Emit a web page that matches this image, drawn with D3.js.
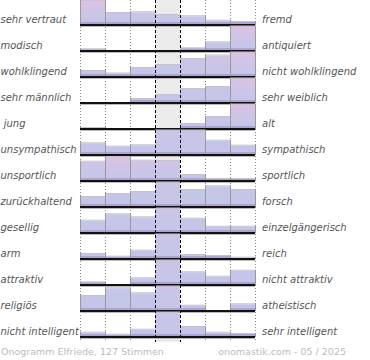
<!DOCTYPE html>
<html><head><meta charset="utf-8">
<script src="https://cdn.jsdelivr.net/npm/d3@7"></script>
<style>
body{margin:0;background:#fff}
svg{display:block}
text{font-family:"DejaVu Sans",sans-serif}
</style>
</head><body>
<svg id="c" width="370" height="360"></svg>
<script>
const leftLabels = ["sehr vertraut","modisch","wohlklingend","sehr männlich"," jung","unsympathisch","unsportlich","zurückhaltend","gesellig","arm","attraktiv","religiös","nicht intelligent"];
const rightLabels = ["fremd","antiquiert","nicht wohlklingend","sehr weiblich","alt","sympathisch","sportlich","forsch","einzelgängerisch","reich","nicht attraktiv","atheistisch","sehr intelligent"];
const columns = [0,1,2,3,4,5,6];
const row0  = [24, 12, 12.7, 10, 8.7, 4.3, 3];
const row1  = [1.7, 0, 0, 0, 2.7, 8.7, 26];
const row2  = [6, 3.5, 9, 12, 18, 21.5, 26];
const row3  = [0, 0, 4, 8, 14, 16, 26];
const row4  = [1, 0, 0, 0, 5, 12, 26];
const row5  = [11.7, 8.3, 9.7, 60, 50, 14.3, 9.3];
const row6  = [19.3, 24, 20.3, 20, 6, 2, 2];
const row7  = [10, 13, 15, 60, 17, 20.7, 17];
const row8  = [12.3, 18.7, 15.7, 55, 14.3, 6.3, 6.3];
const row9  = [5, 2.3, 8.3, 70, 4, 3, 1.3];
const row10 = [2.7, 0, 6.7, 65, 12.7, 8.3, 14.3];
const row11 = [15, 22.7, 17.7, 60, 5.3, 0, 6.7];
const row12 = [4.3, 2.3, 7.3, 70, 10, 4.3, 3];
const values = [row0,row1,row2,row3,row4,row5,row6,row7,row8,row9,row10,row11,row12];
const footerLeft = "Onogramm Elfriede, 127 Stimmen";
const footerRight = "onomastik.com - 05 / 2025";

const svg = d3.select("#c");
const defs = svg.append("defs");
const x = d3.scaleBand().domain(columns).range([80, 255]);
const rowScale = d3.scaleBand().domain(d3.range(leftLabels.length)).range([-1, 337]);
const step = rowScale.step();
const hScale = d3.scaleLinear().domain([0, 24.5]).range([0, 24.5]).clamp(true);
const blue = "#c3c6e8", pink = "#dcc2e4", band = "#a89ed0";
const pinkness = d3.scalePow().exponent(2.5).domain([0, 1]).range([0, 1]).clamp(true);

// middle column background
svg.append("rect").attr("x", x(3)).attr("y", 0).attr("width", x.bandwidth()).attr("height", 342).attr("fill", "#ebebeb");

// dotted column lines
[0,1,2,5,6,7].forEach(i => {
  const xx = i < 7 ? x(i) : x(6) + x.bandwidth();
  svg.append("line").attr("x1", xx + 0.5).attr("x2", xx + 0.5).attr("y1", 0).attr("y2", 342)
    .attr("stroke", "#888").attr("stroke-dasharray", "1,2");
});

values.forEach((vals, r) => {
  const base = rowScale(r) + step;
  const rowMax = d3.max(vals);
  vals.forEach((v, c) => {
    if (v <= 0) return;
    const hh = hScale(v);
    const t = pinkness(v / rowMax);
    const top = d3.interpolateRgb(blue, pink)(t);
    const id = `g${r}_${c}`;
    const g = defs.append("linearGradient").attr("id", id).attr("gradientUnits", "userSpaceOnUse")
      .attr("x1", 0).attr("x2", 0).attr("y1", base - v).attr("y2", base);
    g.append("stop").attr("offset", 0).attr("stop-color", top);
    g.append("stop").attr("offset", 0.55).attr("stop-color", d3.interpolateRgb(blue, top)(0.35));
    g.append("stop").attr("offset", 1).attr("stop-color", blue);
    const x0 = x(c), w = x.bandwidth();
    svg.append("rect").attr("x", x0).attr("y", base - hh).attr("width", w).attr("height", hh).attr("fill", `url(#${id})`);
    const bh = Math.min(3, hh);
    svg.append("rect").attr("x", x0).attr("y", base - bh).attr("width", w).attr("height", bh).attr("fill", band).attr("opacity", 0.85);
    // top edge
    svg.append("line").attr("x1", x0).attr("x2", x0 + w).attr("y1", base - hh - 0.5).attr("y2", base - hh - 0.5)
      .attr("stroke", "#c4c4c4").attr("stroke-width", 1);
    // side edges
    [x0, x0 + w].forEach(xx => {
      if (xx === x(3) || xx === x(4)) return;
      svg.append("line").attr("x1", xx + 0.5).attr("x2", xx + 0.5).attr("y1", base - hh - 1).attr("y2", base)
        .attr("stroke", "#999").attr("stroke-width", 1);
    });
  });
  // baseline
  svg.append("line").attr("x1", 80).attr("x2", 255).attr("y1", base + 1.5).attr("y2", base + 1.5).attr("stroke", "#bbb").attr("stroke-width", 1);
  svg.append("line").attr("x1", 80).attr("x2", 255).attr("y1", base).attr("y2", base).attr("stroke", "#111").attr("stroke-width", 2);
  // labels
  svg.append("text").attr("x", 0.5).attr("y", base - 2).attr("font-size", 10).attr("font-style", "italic")
    .attr("fill", "#555").style("white-space", "pre").text(leftLabels[r]);
  svg.append("text").attr("x", 262).attr("y", base - 2).attr("font-size", 10).attr("font-style", "italic")
    .attr("fill", "#555").text(rightLabels[r]);
});

// dashed middle lines
[x(3), x(4)].forEach(xx => {
  svg.append("line").attr("x1", xx + 0.5).attr("x2", xx + 0.5).attr("y1", 0).attr("y2", 342)
    .attr("stroke", "#000").attr("stroke-width", 1).attr("stroke-dasharray", "3,2");
});

svg.append("text").attr("x", 1).attr("y", 355).attr("font-size", 9.5).attr("fill", "#bbb").text(footerLeft);
svg.append("text").attr("x", 346).attr("y", 355).attr("text-anchor", "end").attr("font-size", 9.5).attr("fill", "#bbb").text(footerRight);
</script>
</body></html>
